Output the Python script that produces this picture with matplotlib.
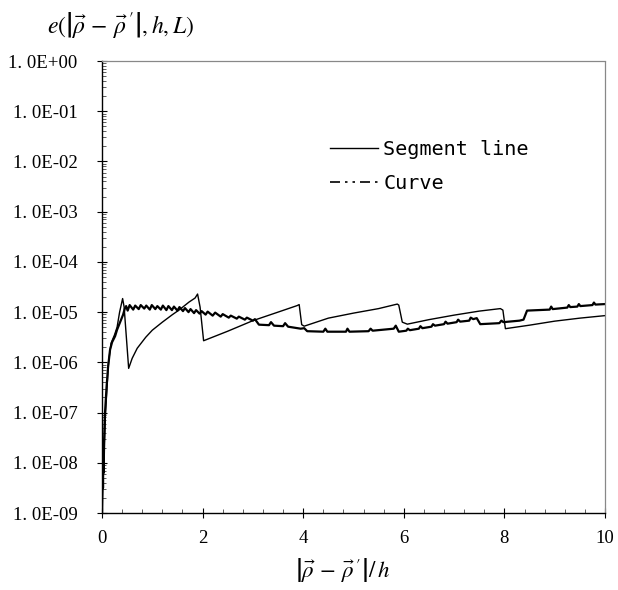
import matplotlib
matplotlib.use("Agg")
import matplotlib.pyplot as plt
from matplotlib.lines import Line2D
from matplotlib.ticker import FixedLocator, MultipleLocator, LogLocator, NullFormatter
import numpy as np

plt.rcParams['mathtext.fontset'] = 'stix'

# ---------------- data (log10 of error) ----------------
seg_x = [0.0, 0.01, 0.02, 0.03, 0.04, 0.05, 0.07, 0.10, 0.13, 0.18, 0.25, 0.30, 0.35,
         0.41, 0.44, 0.53, 0.60, 0.70, 0.87, 1.00, 1.20, 1.40, 1.53, 1.73, 1.85,
         1.90, 1.95, 2.02, 2.50, 3.00, 3.50, 3.88, 3.92, 3.97, 4.02, 4.50, 5.00,
         5.50, 5.87, 5.90, 5.97, 6.07, 6.50, 7.00, 7.50, 7.92, 7.97, 8.02, 8.50,
         9.00, 9.50, 10.0]
seg_log = [-9.0, -8.5, -8.4, -8.0, -8.2, -7.6, -7.0, -6.5, -6.0, -5.62, -5.45, -5.3, -5.0,
           -4.73, -4.9, -6.12, -5.92, -5.72, -5.5, -5.36, -5.2, -5.05, -4.96, -4.8, -4.72,
           -4.64, -4.9, -5.57, -5.38, -5.17, -5.0, -4.87, -4.85, -5.25, -5.28, -5.12, -5.02,
           -4.93, -4.84, -4.86, -5.2, -5.24, -5.15, -5.06, -4.98, -4.93, -4.96, -5.33, -5.26,
           -5.18, -5.12, -5.07]

cur_x = [0.0, 0.01, 0.015, 0.02, 0.025, 0.03, 0.04, 0.06, 0.09, 0.12, 0.16, 0.20, 0.26,
         0.30, 0.34, 0.38, 0.42, 0.45, 0.48, 0.51,
         0.55, 0.62, 0.66, 0.73, 0.77, 0.84, 0.88, 0.95, 0.99, 1.06, 1.10, 1.17, 1.21,
         1.28, 1.32, 1.39, 1.43, 1.50, 1.54, 1.61, 1.65, 1.72, 1.76, 1.83, 1.87, 1.94,
         1.98, 2.06, 2.10, 2.20, 2.25, 2.36, 2.40, 2.52, 2.56, 2.68, 2.72, 2.84, 2.88,
         3.00, 3.04, 3.12, 3.32, 3.36, 3.42, 3.60, 3.64, 3.70, 3.95, 4.02, 4.08, 4.40,
         4.44, 4.48, 4.85, 4.88, 4.92, 5.30, 5.34, 5.38, 5.80, 5.84, 5.90, 6.05, 6.08,
         6.12, 6.30, 6.33, 6.37, 6.55, 6.58, 6.62, 6.80, 6.83, 6.87, 7.05, 7.08, 7.12,
         7.30, 7.33, 7.38, 7.45, 7.52, 7.90, 7.94, 7.98, 8.30, 8.38, 8.45, 8.90, 8.93,
         8.96, 9.25, 9.28, 9.31, 9.45, 9.48, 9.51, 9.75, 9.78, 9.81, 10.0]
cur_log = [-9.0, -8.5, -8.1, -8.5, -7.9, -8.2, -7.6, -7.0, -6.5, -6.1, -5.75, -5.6, -5.48,
           -5.35, -5.25, -5.15, -5.05, -4.94, -4.88, -4.97,
           -4.86, -4.95, -4.87, -4.94, -4.86, -4.93, -4.87, -4.95, -4.86, -4.94, -4.88, -4.95, -4.87,
           -4.96, -4.88, -4.96, -4.89, -4.97, -4.90, -4.98, -4.92, -5.00, -4.94, -5.02, -4.96, -5.03,
           -4.98, -5.05, -4.99, -5.07, -5.01, -5.09, -5.04, -5.11, -5.07, -5.13, -5.09, -5.15, -5.11,
           -5.17, -5.14, -5.25, -5.26, -5.20, -5.27, -5.28, -5.22, -5.29, -5.33, -5.32, -5.38, -5.39,
           -5.33, -5.39, -5.39, -5.33, -5.39, -5.38, -5.33, -5.37, -5.33, -5.27, -5.39, -5.37, -5.33,
           -5.36, -5.33, -5.28, -5.32, -5.29, -5.24, -5.27, -5.24, -5.19, -5.23, -5.20, -5.15, -5.19,
           -5.17, -5.11, -5.14, -5.12, -5.24, -5.22, -5.17, -5.20, -5.17, -5.15, -4.97, -4.95, -4.89,
           -4.94, -4.91, -4.86, -4.90, -4.89, -4.84, -4.88, -4.86, -4.81, -4.85, -4.84]

x_ticks = [0, 2, 4, 6, 8, 10]
y_tick_exps = [0, -1, -2, -3, -4, -5, -6, -7, -8, -9]
y_tick_labels = ['1. 0E+00', '1. 0E-01', '1. 0E-02', '1. 0E-03', '1. 0E-04',
                 '1. 0E-05', '1. 0E-06', '1. 0E-07', '1. 0E-08', '1. 0E-09']
legend_labels = ['Segment line', 'Curve']

# ---------------- figure ----------------
fig = plt.figure(figsize=(6.18, 5.90), dpi=100)
ax = fig.add_axes([102/618, 1-513/590, (605-102)/618, (513-61)/590])

ax.plot(seg_x, np.power(10.0, seg_log), color='black', lw=1.0)
ax.plot(cur_x, np.power(10.0, cur_log), color='black', lw=1.6)

ax.set_yscale('log')
ax.set_xlim(0, 10)
ax.set_ylim(1e-9, 1e0)

ax.yaxis.set_major_locator(FixedLocator([10.0**e for e in y_tick_exps]))
ax.set_yticklabels(y_tick_labels)
ax.yaxis.set_minor_locator(LogLocator(base=10, subs=np.arange(2, 10)))
ax.yaxis.set_minor_formatter(NullFormatter())
ax.set_xticks(x_ticks)
ax.xaxis.set_minor_locator(MultipleLocator(0.4))

for lab in ax.get_xticklabels() + ax.get_yticklabels():
    lab.set_fontfamily('Liberation Serif')
    lab.set_fontsize(13.5)

ax.tick_params(axis='both', which='major', direction='inout', length=7, width=0.8, color='black')
ax.tick_params(axis='both', which='minor', direction='in', length=3, width=0.6, color='#444444')
ax.tick_params(axis='y', which='major', pad=14)
ax.tick_params(axis='x', which='major', pad=9)

for s in ['top', 'right']:
    ax.spines[s].set_linestyle((0, (1, 1)))
    ax.spines[s].set_color('#888888')
    ax.spines[s].set_linewidth(0.9)
for s in ['left', 'bottom']:
    ax.spines[s].set_color('black')
    ax.spines[s].set_linewidth(1.0)

handles = [Line2D([], [], color='black', lw=1.0),
           Line2D([], [], color='black', lw=1.2, dashes=(6, 3, 1.5, 3, 1.5, 3))]
ax.legend(handles, legend_labels, loc='upper left', bbox_to_anchor=(0.453, 0.825),
          frameon=False, prop=dict(family='DejaVu Sans Mono', size=14.5),
          handlelength=2.4, handletextpad=0.25, labelspacing=0.75,
          borderpad=0, borderaxespad=0)

fig.text(47/618, 1-25/590, r"$e(\left|\vec{\rho}\,-\,\vec{\rho}\,'\right|, h, L)$",
         ha='left', va='center', fontsize=17)
fig.text(343/618, 1-571/590, r"$\left|\vec{\rho}\,-\,\vec{\rho}\,'\right|/\,h$",
         ha='center', va='center', fontsize=16.5)

fig.savefig('out.png', dpi=100)
